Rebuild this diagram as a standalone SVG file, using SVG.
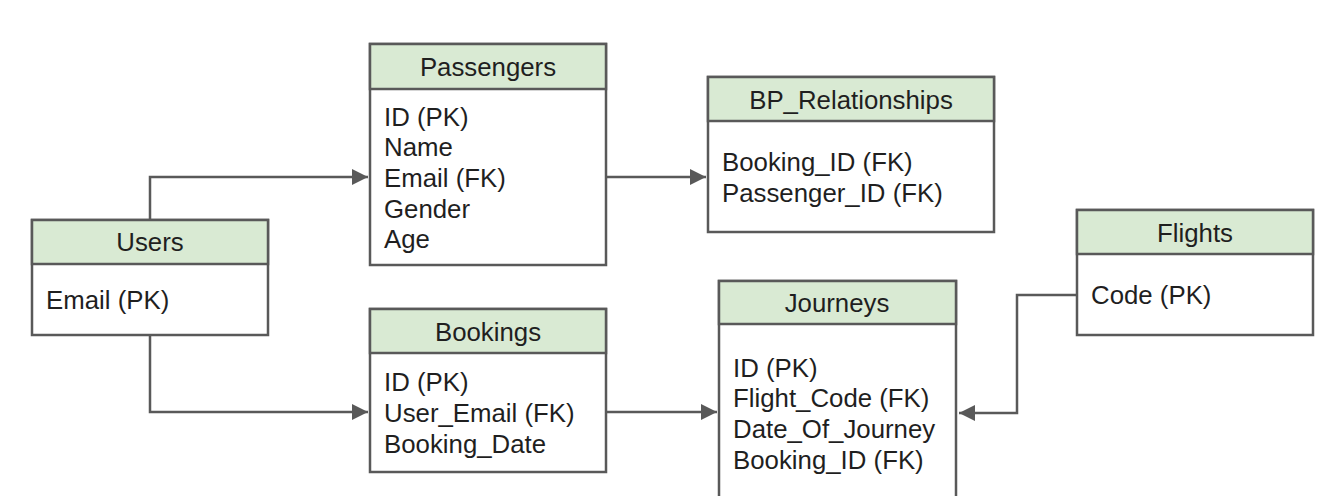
<svg xmlns="http://www.w3.org/2000/svg" width="1328" height="496" viewBox="0 0 1328 496">
<style>
.box{fill:#ffffff;stroke:#595959;stroke-width:2.5}
.hdr{fill:#d9ead3;stroke:#595959;stroke-width:2.5}
.t{font-family:"Liberation Sans",Arial,sans-serif;font-size:25.8px;fill:#1f1f1f}
.c{text-anchor:middle}
.ln{fill:none;stroke:#595959;stroke-width:2.5}
</style>
<defs>
<marker id="ah" viewBox="0 0 10 10" refX="10" refY="5" markerWidth="6.5" markerHeight="6.5" orient="auto" markerUnits="strokeWidth">
<path d="M0,0 L10,5 L0,10 Z" fill="#595959"/>
</marker>
</defs>
<rect width="1328" height="496" fill="#ffffff"/>
<g id="connectors">
<path class="ln" d="M150,219 V177 H368" marker-end="url(#ah)"/>
<path class="ln" d="M150,335 V412 H368" marker-end="url(#ah)"/>
<path class="ln" d="M607,177 H706" marker-end="url(#ah)"/>
<path class="ln" d="M607,412 H717" marker-end="url(#ah)"/>
<path class="ln" d="M1077,295 H1017 V413 H959" marker-end="url(#ah)"/>
</g>
<g id="users">
<rect class="box" x="32" y="220" width="236" height="115"/>
<rect class="hdr" x="32" y="220" width="236" height="44"/>
<text class="t c" x="150" y="251">Users</text>
<text class="t" x="46" y="309">Email (PK)</text>
</g>
<g id="passengers">
<rect class="box" x="370" y="44" width="236" height="221"/>
<rect class="hdr" x="370" y="44" width="236" height="45"/>
<text class="t c" x="488" y="76">Passengers</text>
<text class="t" x="384" y="126">ID (PK)</text>
<text class="t" x="384" y="156">Name</text>
<text class="t" x="384" y="187">Email (FK)</text>
<text class="t" x="384" y="218">Gender</text>
<text class="t" x="384" y="248">Age</text>
</g>
<g id="bp_relationships">
<rect class="box" x="708" y="77" width="286" height="155"/>
<rect class="hdr" x="708" y="77" width="286" height="44"/>
<text class="t c" x="851" y="109">BP_Relationships</text>
<text class="t" x="722" y="171">Booking_ID (FK)</text>
<text class="t" x="722" y="202">Passenger_ID (FK)</text>
</g>
<g id="flights">
<rect class="box" x="1077" y="210" width="236" height="125"/>
<rect class="hdr" x="1077" y="210" width="236" height="44"/>
<text class="t c" x="1195" y="242">Flights</text>
<text class="t" x="1091" y="304">Code (PK)</text>
</g>
<g id="bookings">
<rect class="box" x="370" y="309" width="236" height="163"/>
<rect class="hdr" x="370" y="309" width="236" height="44"/>
<text class="t c" x="488" y="341">Bookings</text>
<text class="t" x="384" y="391">ID (PK)</text>
<text class="t" x="384" y="422">User_Email (FK)</text>
<text class="t" x="384" y="453">Booking_Date</text>
</g>
<g id="journeys">
<rect class="box" x="719" y="281" width="237" height="240"/>
<rect class="hdr" x="719" y="281" width="237" height="43"/>
<text class="t c" x="837" y="312">Journeys</text>
<text class="t" x="733" y="377">ID (PK)</text>
<text class="t" x="733" y="407">Flight_Code (FK)</text>
<text class="t" x="733" y="438">Date_Of_Journey</text>
<text class="t" x="733" y="469">Booking_ID (FK)</text>
</g>
</svg>
